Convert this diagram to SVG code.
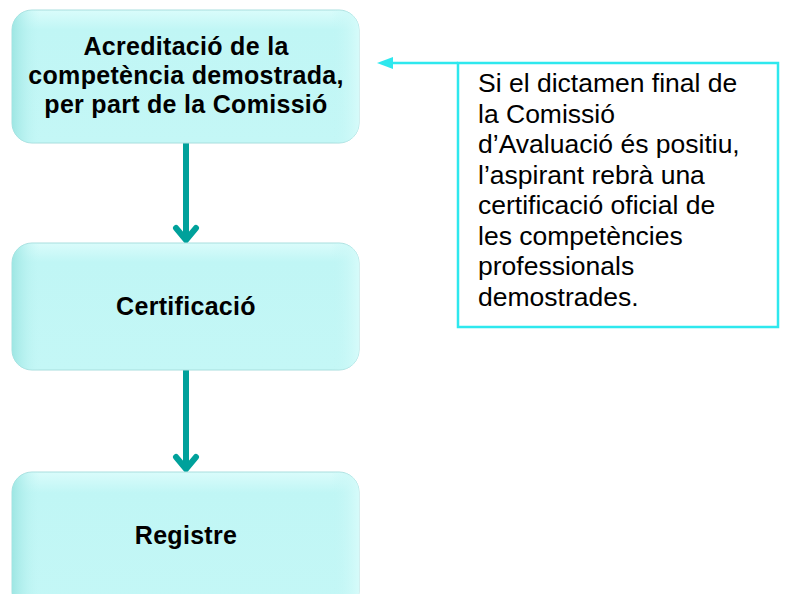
<svg xmlns="http://www.w3.org/2000/svg" width="785" height="594" viewBox="0 0 785 594">
<style>
.box{fill:url(#bg);stroke:#a8dede;stroke-width:1}
.hl{fill:url(#top);stroke:none}
.bt{font-family:"Liberation Sans",Arial,sans-serif;font-weight:bold;font-size:25px;fill:#000;text-anchor:middle;letter-spacing:0.3px}
.ct{font-family:"Liberation Sans",Arial,sans-serif;font-size:26.5px;fill:#000}
.flow{stroke:#00A19B;stroke-width:6;fill:none}
.head{stroke:#00A19B;stroke-width:6;fill:none;stroke-linecap:round;stroke-linejoin:miter}
.cyan{stroke:#2ee8ee;stroke-width:2.5;fill:none}
</style>
<defs>
<linearGradient id="bg" x1="0" y1="0" x2="0" y2="1">
<stop offset="0" stop-color="#dafcfb"/>
<stop offset="0.15" stop-color="#c0f6f5"/>
<stop offset="1" stop-color="#c4f7f6"/>
</linearGradient>
<linearGradient id="top" x1="0" y1="0" x2="1" y2="0">
<stop offset="0" stop-color="#9ee6e3"/>
<stop offset="0.08" stop-color="#c0f5f4" stop-opacity="0"/>
<stop offset="0.92" stop-color="#c0f5f4" stop-opacity="0"/>
<stop offset="1" stop-color="#d6fbfa"/>
</linearGradient>
</defs>
<g id="connectors">
<line class="flow" x1="186" y1="143" x2="186" y2="240"/>
<path class="head" d="M176,228 L186,240 L196,228"/>
<line class="flow" x1="186" y1="370" x2="186" y2="469"/>
<path class="head" d="M176,457 L186,469 L196,457"/>
<line class="cyan" x1="458" y1="63" x2="390" y2="63"/>
<polygon points="377,63 393,57 393,69" fill="#2ee8ee"/>
</g>
<g id="node-acreditacio">
<rect class="box" x="12" y="10" width="347" height="133" rx="20"/>
<rect class="hl" x="12" y="10" width="347" height="133" rx="20"/>
<text class="bt" x="186" y="55">Acreditació de la</text>
<text class="bt" x="186" y="84">competència demostrada,</text>
<text class="bt" x="186" y="113">per part de la Comissió</text>
</g>
<g id="node-certificacio">
<rect class="box" x="12" y="243" width="347" height="127" rx="20"/>
<rect class="hl" x="12" y="243" width="347" height="127" rx="20"/>
<text class="bt" x="186" y="315">Certificació</text>
</g>
<g id="node-registre">
<rect class="box" x="12" y="472" width="347" height="140" rx="20"/>
<rect class="hl" x="12" y="472" width="347" height="140" rx="20"/>
<text class="bt" x="186" y="544">Registre</text>
</g>
<g id="node-nota">
<rect x="458" y="63" width="320" height="264" fill="#fff" stroke="#2ee8ee" stroke-width="2.5"/>
<text class="ct" x="478" y="92">Si el dictamen final de</text>
<text class="ct" x="478" y="122.5">la Comissió</text>
<text class="ct" x="478" y="153">d’Avaluació és positiu,</text>
<text class="ct" x="478" y="183.5">l’aspirant rebrà una</text>
<text class="ct" x="478" y="214">certificació oficial de</text>
<text class="ct" x="478" y="244.5">les competències</text>
<text class="ct" x="478" y="275">professionals</text>
<text class="ct" x="478" y="305.5">demostrades.</text>
</g>
</svg>
